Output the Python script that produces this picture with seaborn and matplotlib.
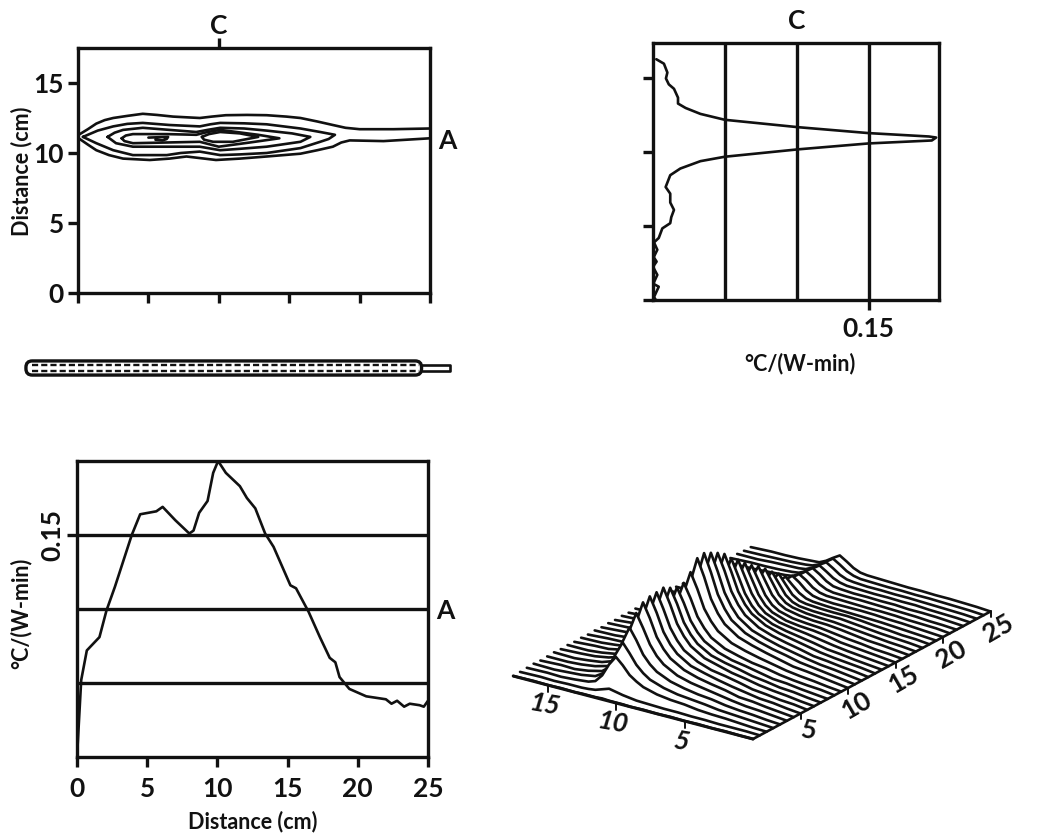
"""plot.py
Four-panel heating pattern figure: contours, two profiles and a waterfall.
"""

# Imports
import matplotlib.pyplot as plt
from matplotlib.patches import FancyBboxPatch
import seaborn as sns
import numpy as np

# Contours, top left panel (distance cm, across cm)
outer_upper_x = [0.05, 0.7, 1.3, 1.9, 2.5, 3.5, 4.6, 5.6, 6.75, 8.65, 9.5, 10.5, 12, 13.4, 14.8, 15.8,
                 17, 18.1, 19, 20, 22.4, 25]
outer_upper_y = [11.3, 11.7, 12.1, 12.35, 12.5, 12.65, 12.8, 12.72, 12.6, 12.5, 12.6, 12.7, 12.72, 12.7,
                 12.6, 12.5, 12.25, 12.0, 11.8, 11.7, 11.7, 11.75]
outer_lower_x = [0.05, 0.7, 1.3, 2.2, 3.2, 5.1, 6.5, 7.7, 8.8, 9.8, 11.5, 13.4, 15.8, 17, 18.1, 18.7,
                 19.3, 21.7, 25]
outer_lower_y = [11.05, 10.6, 10.2, 9.85, 9.6, 9.5, 9.6, 9.75, 9.62, 9.5, 9.6, 9.75, 9.95, 10.2, 10.45,
                 10.75, 10.9, 10.85, 11.05]
level2_x = [0.35, 1.4, 2.5, 3.5, 4.6, 6.5, 8.65, 9.4, 10.1, 11.8, 13.4, 15.8, 17.2, 18.25, 17.8, 17.2,
            15.8, 13.4, 11.5, 10.1, 8.65, 7.3, 6.3, 3.9, 2.5, 1.3, 0.35]
level2_y = [11.15, 11.6, 11.9, 12.08, 12.15, 12.0, 11.9, 12.05, 12.15, 12.12, 12.05, 11.75, 11.5, 11.3,
            11.0, 10.8, 10.35, 10.0, 9.9, 9.85, 10.1, 10.0, 9.85, 9.85, 10.2, 10.7, 11.15]
level3_x = [2.1, 2.6, 3.2, 4.6, 6.5, 8.4, 9.2, 10.1, 11.8, 13.4, 15.2, 16.5, 15.8, 13.4, 11.5, 10.1, 8.65,
            6.3, 3.9, 2.7, 2.1]
level3_y = [11.15, 11.45, 11.65, 11.8, 11.65, 11.5, 11.65, 11.8, 11.75, 11.6, 11.4, 11.15, 10.8, 10.45,
            10.3, 10.2, 10.45, 10.45, 10.45, 10.7, 11.15]
level4_x = [3.1, 3.4, 3.9, 6.3, 8.4, 9.2, 10.1, 12.8, 14.3, 12.2, 10.0, 8.65, 6.3, 3.9, 3.3, 3.1]
level4_y = [11.05, 11.25, 11.35, 11.35, 11.3, 11.5, 11.65, 11.3, 11.05, 10.75, 10.45, 10.8, 10.75, 10.7,
            10.85, 11.05]
level5_x = [8.8, 9.3, 10.1, 11.5, 12.8, 11.0, 9.6, 8.95, 8.8]
level5_y = [11.15, 11.35, 11.5, 11.4, 11.15, 10.8, 10.8, 10.95, 11.15]
hook_x = [5.0, 6.4, 6.3, 6.0, 5.5]
hook_y = [11.1, 11.15, 11.0, 10.9, 10.95]

# Profile along the ridge, bottom left panel
along_x = [0, 0.3, 0.7, 1.6, 2.1, 2.7, 3.9, 4.5, 5.65, 6.1, 7, 8, 8.3, 8.7, 9.3, 9.7,
           10.05, 10.6, 11.6, 12.1, 12.7, 13.4, 14, 15.2, 15.6, 16.5, 17.3, 18, 18.4,
           18.7, 19.4, 20.6, 22, 22.4, 22.8, 23.3, 23.7, 24.4, 24.7, 25]
along_val = [0, 0.052, 0.072, 0.081, 0.099, 0.115, 0.15, 0.164, 0.166, 0.169, 0.16, 0.151,
             0.153, 0.165, 0.173, 0.192, 0.2, 0.192, 0.183, 0.175, 0.168, 0.151, 0.142,
             0.116, 0.114, 0.098, 0.081, 0.067, 0.064, 0.054, 0.046, 0.041, 0.039, 0.036,
             0.038, 0.034, 0.036, 0.035, 0.034, 0.038]

# Profile across the ridge, top right panel
across_val = [0.0023, 0.0076, 0.01, 0.009, 0.011, 0.0146, 0.0174, 0.0174, 0.0227, 0.033, 0.05, 0.101,
              0.15, 0.192, 0.197, 0.194, 0.15, 0.101, 0.05, 0.033, 0.019, 0.012, 0.0088, 0.012, 0.012,
              0.0146, 0.0127, 0.012, 0.0065, 0.004, 0.0007, 0.003, 0.0005, 0.0025, 0, 0.003, 0.0002,
              0.004, 0.0007, 0.002]
across_y = [16.3, 16, 15.4, 15, 14.6, 14.3, 13.7, 13.3, 13, 12.6, 12.2, 11.7, 11.3, 11.07, 11, 10.8,
            10.6, 10.2, 9.7, 9.4, 8.9, 8.45, 7.65, 7.2, 6.6, 6.1, 5.6, 5.2, 4.85, 4.2, 3.9, 3.4, 2.9,
            2.6, 2.25, 1.7, 1.1, 0.9, 0.2, 0]

# Waterfall, one row per scan line (heights in 0.001 C/(W-min))
surface_across = [17.5, 16, 15, 14, 13, 12.5, 12, 11.5, 11, 10.5, 10, 9.5, 9, 8, 7, 6, 5, 4, 3, 2, 1, 0]
surface_rows = [
    [0, 1, 0, 1, 0, 1, 1, 1, 2, 1, 1, 1, 0, 1, 0, 1, 0, 1, 0, 1, 0, 0],
    [1, 2, 1, 2, 2, 3, 5, 10, 15, 12, 9, 7, 5, 4, 3, 3, 2, 2, 1, 1, 1, 0],
    [2, 3, 2, 4, 7, 12, 28, 55, 75, 61, 44, 34, 26, 18, 14, 12, 8, 6, 5, 3, 1, 0],
    [3, 2, 4, 6, 11, 20, 40, 70, 98, 79, 58, 44, 34, 24, 18, 15, 12, 8, 6, 4, 2, 0],
    [2, 4, 3, 7, 14, 25, 50, 88, 122, 99, 72, 55, 43, 30, 23, 18, 15, 10, 7, 5, 2, 0],
    [3, 3, 5, 9, 17, 30, 60, 104, 145, 117, 86, 65, 51, 35, 27, 22, 17, 12, 8, 6, 3, 0],
    [4, 3, 6, 10, 20, 34, 66, 114, 160, 130, 94, 72, 56, 39, 30, 24, 19, 12, 10, 6, 3, 0],
    [3, 5, 7, 12, 21, 36, 68, 118, 165, 134, 97, 74, 58, 40, 32, 25, 19, 14, 9, 7, 3, 0],
    [4, 4, 7, 12, 22, 36, 70, 120, 166, 134, 98, 75, 58, 41, 31, 26, 20, 13, 10, 6, 4, 0],
    [3, 6, 7, 13, 22, 37, 70, 120, 168, 136, 99, 76, 59, 41, 33, 25, 20, 14, 10, 7, 3, 0],
    [4, 5, 8, 12, 21, 35, 66, 114, 160, 130, 94, 72, 56, 39, 31, 25, 18, 14, 9, 7, 3, 0],
    [3, 6, 7, 13, 20, 34, 64, 110, 153, 124, 90, 69, 54, 38, 29, 24, 18, 12, 10, 6, 3, 0],
    [4, 5, 8, 12, 21, 34, 65, 112, 155, 126, 91, 70, 54, 38, 30, 23, 19, 13, 9, 6, 4, 0],
    [3, 6, 8, 14, 23, 38, 71, 122, 170, 138, 100, 77, 60, 42, 33, 26, 20, 14, 10, 7, 3, 0],
    [4, 6, 9, 15, 25, 42, 81, 138, 192, 156, 113, 86, 67, 47, 37, 29, 22, 15, 12, 8, 4, 0],
    [3, 7, 9, 15, 26, 43, 82, 140, 195, 158, 115, 88, 68, 48, 37, 29, 23, 16, 12, 8, 4, 0],
    [4, 6, 9, 15, 25, 41, 79, 135, 188, 152, 111, 85, 66, 46, 36, 28, 22, 16, 11, 8, 4, 0],
    [3, 6, 9, 14, 24, 40, 76, 130, 180, 146, 106, 81, 63, 44, 34, 27, 21, 14, 11, 7, 4, 0],
    [4, 5, 8, 14, 23, 37, 71, 122, 170, 136, 98, 74, 58, 41, 32, 26, 20, 14, 10, 7, 4, 0],
    [3, 6, 8, 13, 20, 34, 64, 110, 153, 120, 86, 64, 50, 36, 29, 24, 19, 13, 10, 6, 3, 0],
    [3, 5, 8, 12, 19, 31, 60, 102, 142, 110, 78, 57, 44, 32, 27, 23, 18, 13, 9, 6, 3, 0],
    [4, 5, 7, 11, 18, 28, 54, 92, 128, 98, 68, 49, 38, 28, 24, 22, 18, 12, 9, 6, 3, 0],
    [3, 5, 7, 11, 16, 25, 48, 83, 115, 87, 59, 42, 33, 25, 22, 20, 16, 12, 9, 5, 3, 0],
    [3, 5, 6, 10, 15, 23, 44, 76, 105, 78, 52, 37, 29, 23, 20, 19, 16, 12, 8, 6, 3, 0],
    [4, 4, 6, 10, 14, 21, 39, 66, 92, 68, 44, 31, 25, 20, 18, 17, 14, 11, 8, 5, 3, 0],
    [3, 5, 6, 9, 13, 18, 33, 56, 78, 57, 36, 25, 20, 17, 16, 16, 13, 10, 7, 5, 3, 0],
    [3, 5, 6, 8, 12, 16, 28, 48, 66, 47, 29, 20, 17, 15, 14, 14, 12, 9, 7, 4, 3, 0],
    [4, 4, 5, 8, 11, 14, 23, 38, 52, 38, 25, 17, 14, 12, 11, 10, 9, 8, 6, 4, 2, 0],
    [3, 4, 6, 7, 10, 13, 21, 34, 46, 36, 23, 15, 12, 10, 10, 10, 9, 7, 6, 4, 2, 0],
    [3, 5, 5, 8, 10, 12, 20, 31, 42, 33, 21, 14, 11, 10, 9, 8, 8, 7, 5, 4, 3, 0],
    [4, 4, 6, 7, 9, 11, 19, 29, 40, 31, 20, 13, 10, 9, 9, 8, 7, 6, 5, 3, 2, 0],
    [3, 4, 5, 7, 9, 11, 18, 29, 39, 30, 19, 12, 10, 8, 8, 7, 7, 5, 5, 4, 2, 0],
    [3, 5, 5, 6, 8, 10, 17, 27, 37, 28, 18, 12, 9, 8, 7, 7, 6, 6, 4, 3, 2, 0],
    [4, 4, 6, 7, 8, 10, 17, 27, 36, 27, 17, 11, 9, 7, 7, 6, 6, 5, 4, 3, 2, 0],
    [3, 4, 5, 6, 8, 10, 16, 26, 36, 27, 17, 11, 8, 7, 6, 6, 5, 5, 4, 3, 2, 0],
    [3, 5, 5, 6, 8, 9, 16, 26, 35, 26, 16, 10, 8, 7, 6, 5, 5, 4, 4, 3, 2, 0],
]
surface_dist_ticks = [5, 10, 15, 20, 25]
surface_across_ticks = [5, 10, 15]

# Look of the figure
FIG_W, FIG_H = 1038, 836
INK = '#111111'
FRAME_LW = 2.4
CURVE_LW = 1.9
FONT = 19
LABEL_FONT = 15.5

sns.set_theme(style='ticks')
plt.rcParams['font.family'] = ['Lato', 'DejaVu Sans']
plt.rcParams['font.weight'] = 'bold'
plt.rcParams['axes.labelweight'] = 'bold'
plt.rcParams['axes.edgecolor'] = INK
plt.rcParams['text.color'] = INK
plt.rcParams['xtick.color'] = INK
plt.rcParams['ytick.color'] = INK
plt.rcParams['axes.labelcolor'] = INK


def pixel_axes(fig, left, top, right, bottom):
    """Add axes placed by pixel edges of the figure (y counted from the top)."""
    return fig.add_axes([left / FIG_W, 1 - bottom / FIG_H,
                         (right - left) / FIG_W, (bottom - top) / FIG_H])


def draw(ax, x, y, lw=CURVE_LW, **kwargs):
    """Draw one unsorted polyline through seaborn."""
    sns.lineplot(x=x, y=y, ax=ax, sort=False, estimator=None, errorbar=None,
                 color=INK, linewidth=lw, **kwargs)


def style_frame(ax):
    for spine in ax.spines.values():
        spine.set_linewidth(FRAME_LW)
    ax.tick_params(width=FRAME_LW, length=7.2, labelsize=FONT, pad=3)
    ax.set_xlabel('')
    ax.set_ylabel('')


def side_mark(ax, where, pos, label, length=0, pad=6):
    """Letter marking a cut line, outside the frame."""
    if where == 'top':
        sec = ax.secondary_xaxis('top')
        sec.set_xticks([pos], labels=[label])
    else:
        sec = ax.secondary_yaxis('right')
        sec.set_yticks([pos], labels=[label])
    sec.tick_params(width=FRAME_LW, length=length, labelsize=FONT, pad=pad)
    for spine in sec.spines.values():
        spine.set_visible(False)


fig = plt.figure(figsize=(FIG_W / 100, FIG_H / 100), dpi=100, facecolor='white')

# Contour panel
ax_contour = pixel_axes(fig, 78, 48, 430, 293)
for cx, cy in [(outer_upper_x, outer_upper_y), (outer_lower_x, outer_lower_y),
               (level2_x, level2_y), (level3_x, level3_y), (level4_x, level4_y),
               (level5_x, level5_y), (hook_x, hook_y)]:
    draw(ax_contour, cx, cy)
ax_contour.set_xlim(0, 25)
ax_contour.set_ylim(0, 17.5)
ax_contour.set_xticks(range(0, 30, 5), labels=[])
ax_contour.set_yticks([0, 5, 10, 15])
style_frame(ax_contour)
ax_contour.set_ylabel('Distance (cm)', fontsize=LABEL_FONT)
ax_contour.yaxis.set_label_coords(-0.13, 0.498)
side_mark(ax_contour, 'top', 10, 'C', length=7.2, pad=0)
side_mark(ax_contour, 'right', 11, 'A')

# Across profile panel
ax_across = pixel_axes(fig, 653, 43, 939, 300)
for v in [0.05, 0.10, 0.15]:
    ax_across.axvline(v, color=INK, lw=FRAME_LW)
draw(ax_across, across_val, across_y)
ax_across.set_xlim(0, 0.199)
ax_across.set_ylim(0, 17.4)
ax_across.set_xticks([0.15], labels=['0.15'])
ax_across.set_yticks([0, 5, 10, 15], labels=[])
style_frame(ax_across)
ax_across.tick_params(axis='x', pad=5)
ax_across.set_xlabel('°C/(W-min)', fontsize=LABEL_FONT)
ax_across.xaxis.set_label_coords(0.514, -0.205)
side_mark(ax_across, 'top', 0.1, 'C', pad=7)

# Probe sketch, on the same cm scale as the panels above and below
probe_body = [-3.7, 24.4]
probe_inner = [-3.3, 24.2]
probe_tail = [24.4, 26.4]
probe_rows = [-0.2, 0.2]
ax_probe = pixel_axes(fig, 22, 355, 458, 381)
ax_probe.add_patch(FancyBboxPatch((probe_body[0], -0.5), probe_body[1] - probe_body[0], 1.0,
                                  boxstyle='round,pad=0,rounding_size=0.45',
                                  fc='white', ec=INK, lw=FRAME_LW))
draw(ax_probe, probe_tail + probe_tail[::-1], [0.21, 0.21, -0.21, -0.21], lw=CURVE_LW)
for row in probe_rows:
    draw(ax_probe, probe_inner, [row, row], lw=1.7, linestyle=(0, (2.6, 1.3)))
ax_probe.set_xlim(-3.98, 26.99)
ax_probe.set_ylim(-0.92, 0.92)
ax_probe.axis('off')

# Along profile panel
ax_along = pixel_axes(fig, 77, 461, 428, 757)
for v in [0.05, 0.10, 0.15]:
    ax_along.axhline(v, color=INK, lw=FRAME_LW)
draw(ax_along, along_x, along_val)
ax_along.set_xlim(0, 25)
ax_along.set_ylim(0, 0.2)
ax_along.set_xticks(range(0, 30, 5))
ax_along.set_yticks([0.15], labels=['0.15'])
style_frame(ax_along)
ax_along.tick_params(axis='x', pad=7)
ax_along.tick_params(axis='y', labelrotation=90, pad=2)
for lab in ax_along.get_yticklabels():
    lab.set_va('center')
ax_along.set_xlabel('Distance (cm)', fontsize=LABEL_FONT)
ax_along.xaxis.set_label_coords(0.5, -0.182)
ax_along.set_ylabel('°C/(W-min)', fontsize=LABEL_FONT)
ax_along.yaxis.set_label_coords(-0.13, 0.486)
side_mark(ax_along, 'right', 0.1, 'A')

# Waterfall, sheared by hand since the page is an oblique drawing
ax_fall = pixel_axes(fig, 490, 500, 1038, 800)
ORIGIN = np.array([753.0, 739.0])
DIST_STEP = np.array([9.5, -5.1])
ACROSS_STEP = np.array([-13.7, -3.6])
HEIGHT_SCALE = 0.47


def project(dist, across, height=0):
    """Page position of a surface point, in panel pixels."""
    pos = ORIGIN[:, None] + DIST_STEP[:, None] * dist + ACROSS_STEP[:, None] * np.asarray(across, float)
    pos[1] = pos[1] - HEIGHT_SCALE * np.asarray(height, float)
    return pos


heights = np.array(surface_rows, float)
row_dist = 25 / (len(surface_rows) - 1) * np.arange(len(surface_rows))
for i in range(len(surface_rows) - 1, -1, -1):
    top_x, top_y = project(row_dist[i], surface_across, heights[i])
    base_x, base_y = project(row_dist[i], surface_across)
    ax_fall.fill(np.r_[top_x, base_x[::-1]], np.r_[top_y, base_y[::-1]],
                 color='white', lw=0, zorder=100 - i)
    sns.lineplot(x=top_x, y=top_y, ax=ax_fall, sort=False, estimator=None, errorbar=None,
                 color=INK, linewidth=CURVE_LW, zorder=100 - i + 0.5)

# Base edges, ticks and labels of the waterfall
edge_x, edge_y = project(np.array([0.0, 0.0]), [0, 17.5])
draw(ax_fall, edge_x, edge_y, lw=2.2, zorder=200)
edge_x, edge_y = project(np.array([0.0, 25.0]), [0, 0])
draw(ax_fall, edge_x, edge_y, lw=1.9, zorder=200)

for tick in surface_across_ticks:
    tx, ty = project(0, [tick])
    draw(ax_fall, [tx[0], tx[0]], [ty[0], ty[0] + 7], lw=1.4, zorder=200)
    ax_fall.text(tx[0] - 3, ty[0] + 20, str(tick), fontsize=FONT, rotation=-10,
                 ha='center', va='center', style='italic')
for tick in surface_dist_ticks:
    tx, ty = project(tick, [0])
    draw(ax_fall, [tx[0], tx[0]], [ty[0], ty[0] + 6], lw=1.4, zorder=200)
    ax_fall.text(tx[0] + 8, ty[0] + 17, str(tick), fontsize=FONT, rotation=30 if tick > 5 else -10,
                 ha='center', va='center')
ax_fall.set_xlim(490, 1038)
ax_fall.set_ylim(800, 500)
ax_fall.axis('off')

fig.savefig('out.png', dpi=100)
